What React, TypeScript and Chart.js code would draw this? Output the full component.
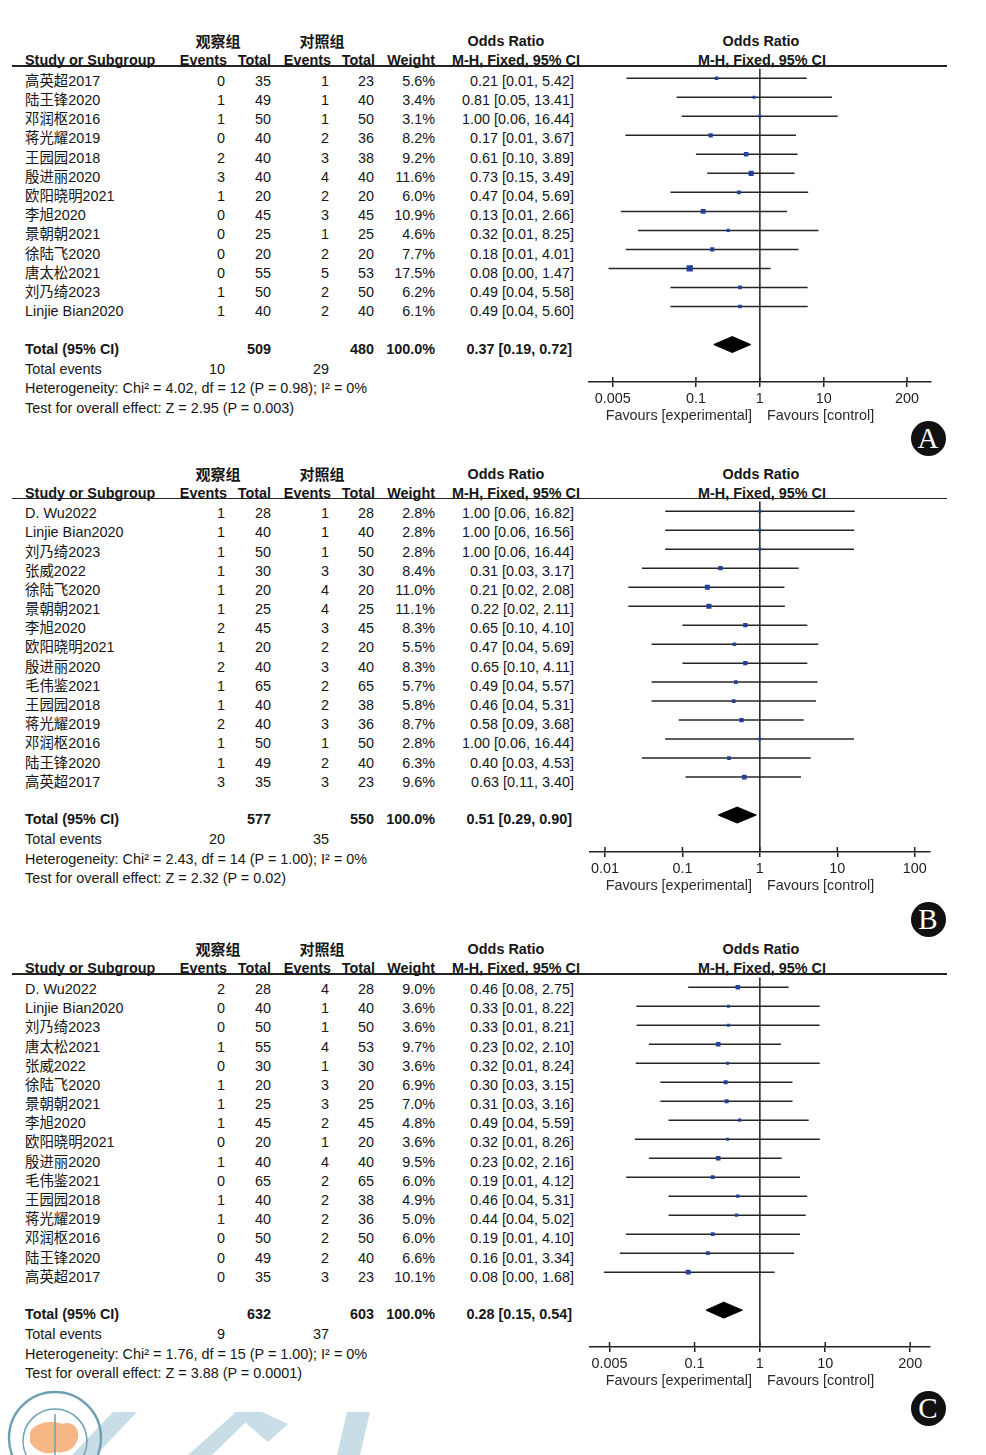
import React, { useEffect, useRef } from 'react';
import { Chart, registerables } from 'chart.js';

Chart.register(...registerables);

// ---------------- Panel A data ----------------
const studiesA = ['高英超2017', '陆王锋2020', '邓润枢2016', '蒋光耀2019', '王园园2018', '殷进丽2020', '欧阳晓明2021', '李旭2020', '景朝朝2021', '徐陆飞2020', '唐太松2021', '刘乃绮2023', 'Linjie Bian2020'];
const expEventsA = [0, 1, 1, 0, 2, 3, 1, 0, 0, 0, 0, 1, 1];
const expTotalA = [35, 49, 50, 40, 40, 40, 20, 45, 25, 20, 55, 50, 40];
const ctlEventsA = [1, 1, 1, 2, 3, 4, 2, 3, 1, 2, 5, 2, 2];
const ctlTotalA = [23, 40, 50, 36, 38, 40, 20, 45, 25, 20, 53, 50, 40];
const weightA = [5.6, 3.4, 3.1, 8.2, 9.2, 11.6, 6.0, 10.9, 4.6, 7.7, 17.5, 6.2, 6.1];
const orA = [0.21, 0.81, 1.0, 0.17, 0.61, 0.73, 0.47, 0.13, 0.32, 0.18, 0.08, 0.49, 0.49];
const lowA = [0.0082, 0.05, 0.06, 0.0079, 0.1, 0.15, 0.04, 0.0067, 0.0124, 0.008, 0.0043, 0.04, 0.04];
const highA = [5.42, 13.41, 16.44, 3.67, 3.89, 3.49, 5.69, 2.66, 8.25, 4.01, 1.47, 5.58, 5.6];
const pooledA = [0.37, 0.19, 0.72];
const ticksA = [0.005, 0.1, 1, 10, 200];
const heterogeneityA = 'Heterogeneity: Chi² = 4.02, df = 12 (P = 0.98); I² = 0%';
const overallA = 'Test for overall effect: Z = 2.95 (P = 0.003)';

// ---------------- Panel B data ----------------
const studiesB = ['D. Wu2022', 'Linjie Bian2020', '刘乃绮2023', '张威2022', '徐陆飞2020', '景朝朝2021', '李旭2020', '欧阳晓明2021', '殷进丽2020', '毛伟鉴2021', '王园园2018', '蒋光耀2019', '邓润枢2016', '陆王锋2020', '高英超2017'];
const expEventsB = [1, 1, 1, 1, 1, 1, 2, 1, 2, 1, 1, 2, 1, 1, 3];
const expTotalB = [28, 40, 50, 30, 20, 25, 45, 20, 40, 65, 40, 40, 50, 49, 35];
const ctlEventsB = [1, 1, 1, 3, 4, 4, 3, 2, 3, 2, 2, 3, 1, 2, 3];
const ctlTotalB = [28, 40, 50, 30, 20, 25, 45, 20, 40, 65, 38, 36, 50, 40, 23];
const weightB = [2.8, 2.8, 2.8, 8.4, 11.0, 11.1, 8.3, 5.5, 8.3, 5.7, 5.8, 8.7, 2.8, 6.3, 9.6];
const orB = [1.0, 1.0, 1.0, 0.31, 0.21, 0.22, 0.65, 0.47, 0.65, 0.49, 0.46, 0.58, 1.0, 0.4, 0.63];
const lowB = [0.06, 0.06, 0.06, 0.03, 0.02, 0.02, 0.1, 0.04, 0.1, 0.04, 0.04, 0.09, 0.06, 0.03, 0.11];
const highB = [16.82, 16.56, 16.44, 3.17, 2.08, 2.11, 4.1, 5.69, 4.11, 5.57, 5.31, 3.68, 16.44, 4.53, 3.4];
const pooledB = [0.51, 0.29, 0.9];
const ticksB = [0.01, 0.1, 1, 10, 100];
const heterogeneityB = 'Heterogeneity: Chi² = 2.43, df = 14 (P = 1.00); I² = 0%';
const overallB = 'Test for overall effect: Z = 2.32 (P = 0.02)';

// ---------------- Panel C data ----------------
const studiesC = ['D. Wu2022', 'Linjie Bian2020', '刘乃绮2023', '唐太松2021', '张威2022', '徐陆飞2020', '景朝朝2021', '李旭2020', '欧阳晓明2021', '殷进丽2020', '毛伟鉴2021', '王园园2018', '蒋光耀2019', '邓润枢2016', '陆王锋2020', '高英超2017'];
const expEventsC = [2, 0, 0, 1, 0, 1, 1, 1, 0, 1, 0, 1, 1, 0, 0, 0];
const expTotalC = [28, 40, 50, 55, 30, 20, 25, 45, 20, 40, 65, 40, 40, 50, 49, 35];
const ctlEventsC = [4, 1, 1, 4, 1, 3, 3, 2, 1, 4, 2, 2, 2, 2, 2, 3];
const ctlTotalC = [28, 40, 50, 53, 30, 20, 25, 45, 20, 40, 65, 38, 36, 50, 40, 23];
const weightC = [9.0, 3.6, 3.6, 9.7, 3.6, 6.9, 7.0, 4.8, 3.6, 9.5, 6.0, 4.9, 5.0, 6.0, 6.6, 10.1];
const orC = [0.46, 0.33, 0.33, 0.23, 0.32, 0.3, 0.31, 0.49, 0.32, 0.23, 0.19, 0.46, 0.44, 0.19, 0.16, 0.08];
const lowC = [0.08, 0.0129, 0.013, 0.02, 0.0126, 0.03, 0.03, 0.04, 0.0122, 0.02, 0.009, 0.04, 0.04, 0.0089, 0.0072, 0.0041];
const highC = [2.75, 8.22, 8.21, 2.1, 8.24, 3.15, 3.16, 5.59, 8.26, 2.16, 4.12, 5.31, 5.02, 4.1, 3.34, 1.68];
const pooledC = [0.28, 0.15, 0.54];
const ticksC = [0.005, 0.1, 1, 10, 200];
const heterogeneityC = 'Heterogeneity: Chi² = 1.76, df = 15 (P = 1.00); I² = 0%';
const overallC = 'Test for overall effect: Z = 3.88 (P = 0.0001)';

const FONT = '"Liberation Sans", Arial, "Noto Sans CJK SC", sans-serif';
const INK = '#161616';
const MARKER = '#23409a';
const FS = 14.4;

type PanelData = {
  studies: string[]; expEvents: number[]; expTotal: number[]; ctlEvents: number[]; ctlTotal: number[];
  weight: number[]; or: number[]; low: number[]; high: number[]; pooled: number[]; ticks: number[];
  heterogeneity: string; overall: string;
};
type PanelLayout = { headerY: number; row0: number; step: number; axisY: number; xMin: number; xMax: number; letter: string; letterY: number };

const panels: { d: PanelData; l: PanelLayout }[] = [
  {
    d: { studies: studiesA, expEvents: expEventsA, expTotal: expTotalA, ctlEvents: ctlEventsA, ctlTotal: ctlTotalA, weight: weightA, or: orA, low: lowA, high: highA, pooled: pooledA, ticks: ticksA, heterogeneity: heterogeneityA, overall: overallA },
    l: { headerY: 66, row0: 75.7, step: 19.2, axisY: 382.3, xMin: 0.0021, xMax: 463.6, letter: 'A', letterY: 438 },
  },
  {
    d: { studies: studiesB, expEvents: expEventsB, expTotal: expTotalB, ctlEvents: ctlEventsB, ctlTotal: ctlTotalB, weight: weightB, or: orB, low: lowB, high: highB, pooled: pooledB, ticks: ticksB, heterogeneity: heterogeneityB, overall: overallB },
    l: { headerY: 498.3, row0: 508.3, step: 19.17, axisY: 852.3, xMin: 0.00627, xMax: 156.3, letter: 'B', letterY: 919 },
  },
  {
    d: { studies: studiesC, expEvents: expEventsC, expTotal: expTotalC, ctlEvents: ctlEventsC, ctlTotal: ctlTotalC, weight: weightC, or: orC, low: lowC, high: highC, pooled: pooledC, ticks: ticksC, heterogeneity: heterogeneityC, overall: overallC },
    l: { headerY: 974, row0: 984, step: 19.18, axisY: 1347.3, xMin: 0.00246, xMax: 396, letter: 'C', letterY: 1408 },
  },
];

const PLOT_LEFT = 586;
const PLOT_WIDTH = 347;
const AXIS_H = 30;

const tickCross = {
  id: 'tickCross',
  afterDraw(chart: any) {
    const s = chart.scales.x;
    const ctx = chart.ctx;
    ctx.save();
    ctx.strokeStyle = '#222';
    ctx.lineWidth = 1.5;
    s.ticks.forEach((t: any) => {
      const px = s.getPixelForValue(t.value);
      ctx.beginPath();
      ctx.moveTo(px, s.top - 5);
      ctx.lineTo(px, s.top);
      ctx.stroke();
    });
    ctx.restore();
  },
};

function ForestChart({ d, l }: { d: PanelData; l: PanelLayout }) {
  const ref = useRef<HTMLCanvasElement | null>(null);
  const height = Math.round(l.axisY - l.headerY) + AXIS_H;
  useEffect(() => {
    if (!ref.current) return;
    const n = d.studies.length;
    const yMin = (l.headerY - l.row0) / l.step;
    const yMax = (l.axisY - l.row0) / l.step;
    const tIdx = n + 1;
    const [pOr, pLo, pHi] = d.pooled;
    const side = (w: number) => Math.max(3, 1.5 * Math.sqrt(w)) / Math.SQRT2;
    const datasets: any[] = [];
    datasets.push({
      data: d.or.map((v, i) => ({ x: v, y: i })),
      showLine: false,
      pointStyle: 'rect',
      pointRadius: (c: any) => side(d.weight[c.dataIndex] ?? 1),
      pointHoverRadius: (c: any) => side(d.weight[c.dataIndex] ?? 1),
      pointBackgroundColor: MARKER,
      pointBorderWidth: 0,
      borderWidth: 0,
    });
    datasets.push({
      data: [
        { x: pLo, y: tIdx }, { x: pOr, y: tIdx - 0.42 }, { x: pHi, y: tIdx }, { x: pOr, y: tIdx + 0.42 }, { x: pLo, y: tIdx },
      ],
      fill: 'shape',
      backgroundColor: '#000',
      borderColor: '#000',
      borderWidth: 1,
      pointRadius: 0,
      tension: 0,
    });
    d.low.forEach((lo, i) => {
      datasets.push({
        data: [{ x: lo, y: i }, { x: d.high[i], y: i }],
        borderColor: '#262626',
        borderWidth: 1.5,
        pointRadius: 0,
        fill: false,
      });
    });
    datasets.push({
      data: [{ x: 1, y: yMin }, { x: 1, y: yMax }],
      borderColor: '#111',
      borderWidth: 1.4,
      pointRadius: 0,
      fill: false,
    });
    const chart = new Chart(ref.current, {
      type: 'line',
      data: { datasets },
      options: {
        responsive: false,
        animation: false,
        events: [],
        layout: { padding: 0 },
        plugins: { legend: { display: false }, tooltip: { enabled: false }, title: { display: false } },
        scales: {
          x: {
            type: 'logarithmic',
            position: 'bottom',
            bounds: 'data',
            min: l.xMin,
            max: l.xMax,
            afterBuildTicks: (s: any) => {
              s.ticks = d.ticks.map((v) => ({ value: v }));
            },
            afterFit: (s: any) => {
              s.height = AXIS_H;
            },
            ticks: {
              callback: (v: any) => String(v),
              autoSkip: false,
              maxRotation: 0,
              minRotation: 0,
              padding: 3,
              color: '#1e1e1e',
              font: { family: FONT, size: FS },
            },
            grid: { drawOnChartArea: false, drawTicks: true, tickLength: 5, color: '#222', lineWidth: 1.5 },
            border: { display: true, color: '#222', width: 1.5 },
          },
          y: { type: 'linear', reverse: true, min: yMin, max: yMax, display: false },
        },
      } as any,
      plugins: [tickCross],
    });
    return () => chart.destroy();
  }, []);
  return (
    <canvas
      ref={ref}
      width={PLOT_WIDTH}
      height={height}
      style={{ position: 'absolute', left: PLOT_LEFT, top: l.headerY, width: PLOT_WIDTH, height }}
    />
  );
}

function T({ x, y, align = 'left', bold = false, size = FS, color = INK, family = FONT, children }: any) {
  const tf = align === 'right' ? 'translateX(-100%)' : align === 'center' ? 'translateX(-50%)' : undefined;
  return (
    <div
      style={{
        position: 'absolute', left: x, top: y - 8, transform: tf, fontWeight: bold ? 700 : 400,
        whiteSpace: 'nowrap', lineHeight: '16px', fontSize: size, color, fontFamily: family,
      }}
    >
      {children}
    </div>
  );
}

const COL = { name: 25, expE: 225, expT: 271, ctlE: 329, ctlT: 374, wt: 435, or: 574 };
const fmtCI = (o: number, lo: number, hi: number) => `${o.toFixed(2)} [${lo.toFixed(2)}, ${hi.toFixed(2)}]`;
const sum = (a: number[]) => a.reduce((s, v) => s + v, 0);

function Panel({ d, l }: { d: PanelData; l: PanelLayout }) {
  const n = d.studies.length;
  const rowY = (i: number) => l.row0 + l.step * i + 5;
  const h1 = l.headerY - 24.7;
  const h2 = l.headerY - 5.8;
  const totY = rowY(n + 1) - 1;
  const cjkHead = '"Noto Sans CJK SC", sans-serif';
  return (
    <>
      <T x={218} y={h1} align="center" bold family={cjkHead} size={15}>观察组</T>
      <T x={322} y={h1} align="center" bold family={cjkHead} size={15}>对照组</T>
      <T x={506} y={h1} align="center" bold>Odds Ratio</T>
      <T x={761} y={h1} align="center" bold>Odds Ratio</T>
      <T x={COL.name} y={h2} bold>Study or Subgroup</T>
      <T x={COL.expE + 2} y={h2} align="right" bold>Events</T>
      <T x={COL.expT} y={h2} align="right" bold>Total</T>
      <T x={COL.ctlE + 2} y={h2} align="right" bold>Events</T>
      <T x={COL.ctlT + 1} y={h2} align="right" bold>Total</T>
      <T x={COL.wt} y={h2} align="right" bold>Weight</T>
      <T x={516} y={h2} align="center" bold>M-H, Fixed, 95% CI</T>
      <T x={762} y={h2} align="center" bold>M-H, Fixed, 95% CI</T>
      <div style={{ position: 'absolute', left: 12, top: l.headerY - 0.75, width: 935, height: 1.5, background: '#222' }} />
      {d.studies.map((s, i) => (
        <React.Fragment key={i}>
          <T x={COL.name} y={rowY(i)}>{s}</T>
          <T x={COL.expE} y={rowY(i)} align="right">{d.expEvents[i]}</T>
          <T x={COL.expT} y={rowY(i)} align="right">{d.expTotal[i]}</T>
          <T x={COL.ctlE} y={rowY(i)} align="right">{d.ctlEvents[i]}</T>
          <T x={COL.ctlT} y={rowY(i)} align="right">{d.ctlTotal[i]}</T>
          <T x={COL.wt} y={rowY(i)} align="right">{d.weight[i].toFixed(1)}%</T>
          <T x={COL.or} y={rowY(i)} align="right">{fmtCI(d.or[i], d.low[i], d.high[i])}</T>
        </React.Fragment>
      ))}
      <T x={COL.name} y={totY} bold>Total (95% CI)</T>
      <T x={COL.expT} y={totY} align="right" bold>{sum(d.expTotal)}</T>
      <T x={COL.ctlT} y={totY} align="right" bold>{sum(d.ctlTotal)}</T>
      <T x={COL.wt} y={totY} align="right" bold>100.0%</T>
      <T x={COL.or - 2} y={totY} align="right" bold>{fmtCI(d.pooled[0], d.pooled[1], d.pooled[2])}</T>
      <T x={COL.name} y={totY + 20}>Total events</T>
      <T x={COL.expE} y={totY + 20} align="right">{sum(d.expEvents)}</T>
      <T x={COL.ctlE} y={totY + 20} align="right">{sum(d.ctlEvents)}</T>
      <T x={COL.name} y={totY + 39.5}>{d.heterogeneity}</T>
      <T x={COL.name} y={totY + 59}>{d.overall}</T>
      <ForestChart d={d} l={l} />
      <T x={752} y={l.axisY + 33} align="right" color="#2a2a2a">Favours [experimental]</T>
      <T x={767} y={l.axisY + 33} color="#2a2a2a">Favours [control]</T>
      <div
        style={{
          position: 'absolute', left: 928 - 17.5, top: l.letterY - 17.5, width: 35, height: 35, borderRadius: '50%',
          background: '#111', color: '#fff', fontFamily: '"Liberation Serif", "DejaVu Serif", serif', fontSize: 29,
          lineHeight: '35px', textAlign: 'center',
        }}
      >
        {l.letter}
      </div>
    </>
  );
}

function Watermark() {
  return (
    <svg
      width={400}
      height={75}
      style={{ position: 'absolute', left: 0, top: 1380, pointerEvents: 'none' }}
      viewBox="0 0 400 75"
    >
      <polygon points="72,75 96,75 137,32 113,32" fill="#c9dde6" />
      <polygon points="188,75 212,75 248,40 236,32" fill="#c9dde6" />
      <polygon points="233,32 262,32 288,44 268,62" fill="#c9dde6" />
      <polygon points="347,32 370,32 360,75 337,75" fill="#c9dde6" />
      <path d="M30,52 C36,42 52,40 62,44 C72,40 80,48 78,58 C76,68 66,74 56,72 C46,76 34,70 30,62 Z" fill="#f7b685" />
      <circle cx={55} cy={58} r={46} fill="none" stroke="#6f9fb2" strokeWidth={2.5} />
      <circle cx={55} cy={61} r={32} fill="none" stroke="#6f9fb2" strokeWidth={1.5} />
      <line x1={55} y1={34} x2={55} y2={75} stroke="#6f9fb2" strokeWidth={1.5} />
    </svg>
  );
}

export default function App() {
  return (
    <div
      style={{
        position: 'absolute', left: 0, top: 0, width: 986, height: 1455, background: '#fff', overflow: 'hidden',
        fontFamily: FONT, color: INK,
      }}
    >
      <Watermark />
      {panels.map((p, i) => (
        <Panel key={i} d={p.d} l={p.l} />
      ))}
    </div>
  );
}
